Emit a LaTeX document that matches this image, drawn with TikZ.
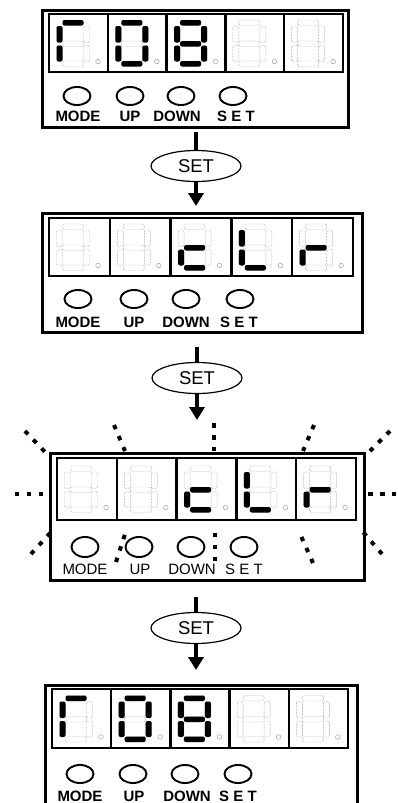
\documentclass[tikz,border=0pt]{standalone}
\usepackage{fontspec}
\setmainfont{Liberation Sans}
\usetikzlibrary{arrows.meta,shapes.geometric}
\definecolor{ink}{HTML}{000000}
\definecolor{ghost}{HTML}{A3A3A3}
\newcommand{\keyfont}{\fontsize{15}{17}\selectfont}
\tikzset{
 every node/.append style={text=ink,inner sep=0pt},
 casing/.style={draw=ink,line width=3pt,outer sep=0pt},
 screen/.style={draw=ink,line width=2.3pt},
 segoff/.style={draw=ghost,line width=.45pt,dash pattern=on .8pt off .7pt,rounded corners=1.5pt},
 segon/.style={fill=ink,rounded corners=2pt},
 dp/.style={draw=ghost,line width=.5pt},
 knob/.style={ellipse,draw=ink,line width=1.9pt,minimum width=27pt,minimum height=18pt},
 keylabel/.style={font=\keyfont\bfseries,anchor=base},
 keycap/.style={ellipse,draw=ink,line width=1.2pt,minimum width=90pt,minimum height=31pt,font=\fontsize{18.5}{20}\selectfont},
 shaft/.style={draw=ink,line width=4pt},
 flow/.style={-{Triangle[length=13pt,width=15pt]},draw=ink,line width=4pt},
 blink/.style={draw=ink,line width=4pt,dash pattern=on 4.5pt off 7.5pt},
}
% one digit of the display: top-left corner of the cell, lit segments
\newcommand{\digitcell}[3]{%
 \begin{scope}[shift={({#1},{#2})}]
  \foreach \n/\xa/\ya/\xb/\yb in {a/13.5/6.5/34.5/12,b/34.5/12.5/40.5/29,c/34.5/32/40.5/48,d/13.5/47.5/34.5/53,e/7.5/32/13.5/48,f/7.5/12.5/13.5/29,g/13.5/27.5/34.5/33}{
   \coordinate (\n1) at (\xa,\ya);
   \coordinate (\n2) at (\xb,\yb);
   \draw[segoff] (\n1) rectangle (\n2);}
  \foreach \s in #3{\ifx\s\empty\else\fill[segon] (\s1) rectangle (\s2);\fi}
  \draw[dp] (49,48) circle (2.3pt);
 \end{scope}}
% five digit display: left, top, right, bottom, digits
\newcommand{\readout}[5]{%
 \pgfmathsetmacro{\cellw}{(#3-#1)/5}
 \pgfmathsetmacro{\celltop}{#2+(#4-#2-59)/2}
 \draw[screen] (#1,#2) rectangle (#3,#4);
 \foreach \i in {1,...,4}
  \draw[screen] ({#1+\i*\cellw},#2) -- ({#1+\i*\cellw},#4);
 \foreach \lit [count=\i from 0] in {#5}
  \digitcell{#1+\i*\cellw}{\celltop}{\lit};}

\begin{document}
\begin{tikzpicture}[x=1pt,y=-1pt]
\useasboundingbox (0,0) rectangle (397,803);
\clip (0,0) rectangle (397,803);

% panel 1
\node[casing,minimum width=306pt,minimum height=117pt] (p1) at (195,68.5) {};
\readout{49}{14}{343}{72}{{a,e,f},{a,b,c,d,e,f},{a,b,c,d,e,f,g},{},{}}
\foreach \x/\lx/\t [count=\k] in {77/78/MODE,130/130/UP,181/177/DOWN,233/236/S E T}{
 \node[knob] (knob1-\k) at (\x,96) {};
 \node[keylabel] (name1-\k) at (\lx,121) {\t};}

\node[keycap] (set1) at (196,166) {SET};

% panel 2
\node[casing,minimum width=320pt,minimum height=119pt] (p2) at (202,272.5) {};
\readout{49}{218}{353}{276}{{},{},{d,e,g},{d,e,f},{e,g}}
\foreach \x/\lx/\t [count=\k] in {78/78/MODE,134/134/UP,186/186/DOWN,240/239/S E T}{
 \node[knob] (knob2-\k) at (\x,299) {};
 \node[keylabel] (name2-\k) at (\lx,327) {\t};}

\node[keycap] (set2) at (197,378) {SET};

% panel 3, blinking
\node[casing,minimum width=314pt,minimum height=127pt] (p3) at (207,516.5) {};
\readout{57}{458}{356}{520}{{},{},{d,e,g},{d,e,f},{e,g}}
\foreach \x/\lx/\t [count=\k] in {85/85/MODE,139/140/UP,191/192/DOWN,244/244/S E T}{
 \node[knob,minimum width=27pt,minimum height=20pt] (knob3-\k) at (\x,547) {};
 \node[keylabel,font=\keyfont] (name3-\k) at (\lx,574) {\t};}
\foreach \xa/\ya/\xb/\yb in {25/431/45/452,114/425/125/451,214/423/214/451,314/425/303/451,390/431/370/451,
  14.5/494/42.5/494,368/494/396/494,31/554/51/532,116/562/125/534,215/561/215/533,313/563/301/536,382/554/363/532}
 \draw[blink] (\xa,\ya) -- (\xb,\yb);

\node[keycap] (set3) at (196,628) {SET};

% panel 4
\node[casing,minimum width=312pt,minimum height=123pt] (p4) at (201,746.5) {};
\readout{52}{689}{348}{748}{{a,e,f},{a,b,c,d,e,f},{a,b,c,d,e,f,g},{},{}}
\foreach \x/\lx/\t [count=\k] in {80/80/MODE,133/134/UP,185/187/DOWN,238/238/S E T}{
 \node[knob] (knob4-\k) at (\x,774) {};
 \node[keylabel] (name4-\k) at (\lx,801) {\t};}

\draw[shaft,shorten <=5pt] (set1.north |- p1.south) -- (set1.north);
\draw[flow,shorten >=7pt] (set1.south) -- (set1.south |- p2.north);
\draw[shaft,shorten <=15pt] (set2.north |- p2.south) -- (set2.north);
\draw[flow,shorten >=33pt] (set2.south) -- (set2.south |- p3.north);
\draw[shaft,shorten <=17pt] (set3.north |- p3.south) -- (set3.north);
\draw[flow,shorten >=15pt] (set3.south) -- (set3.south |- p4.north);

\end{tikzpicture}
\end{document}
